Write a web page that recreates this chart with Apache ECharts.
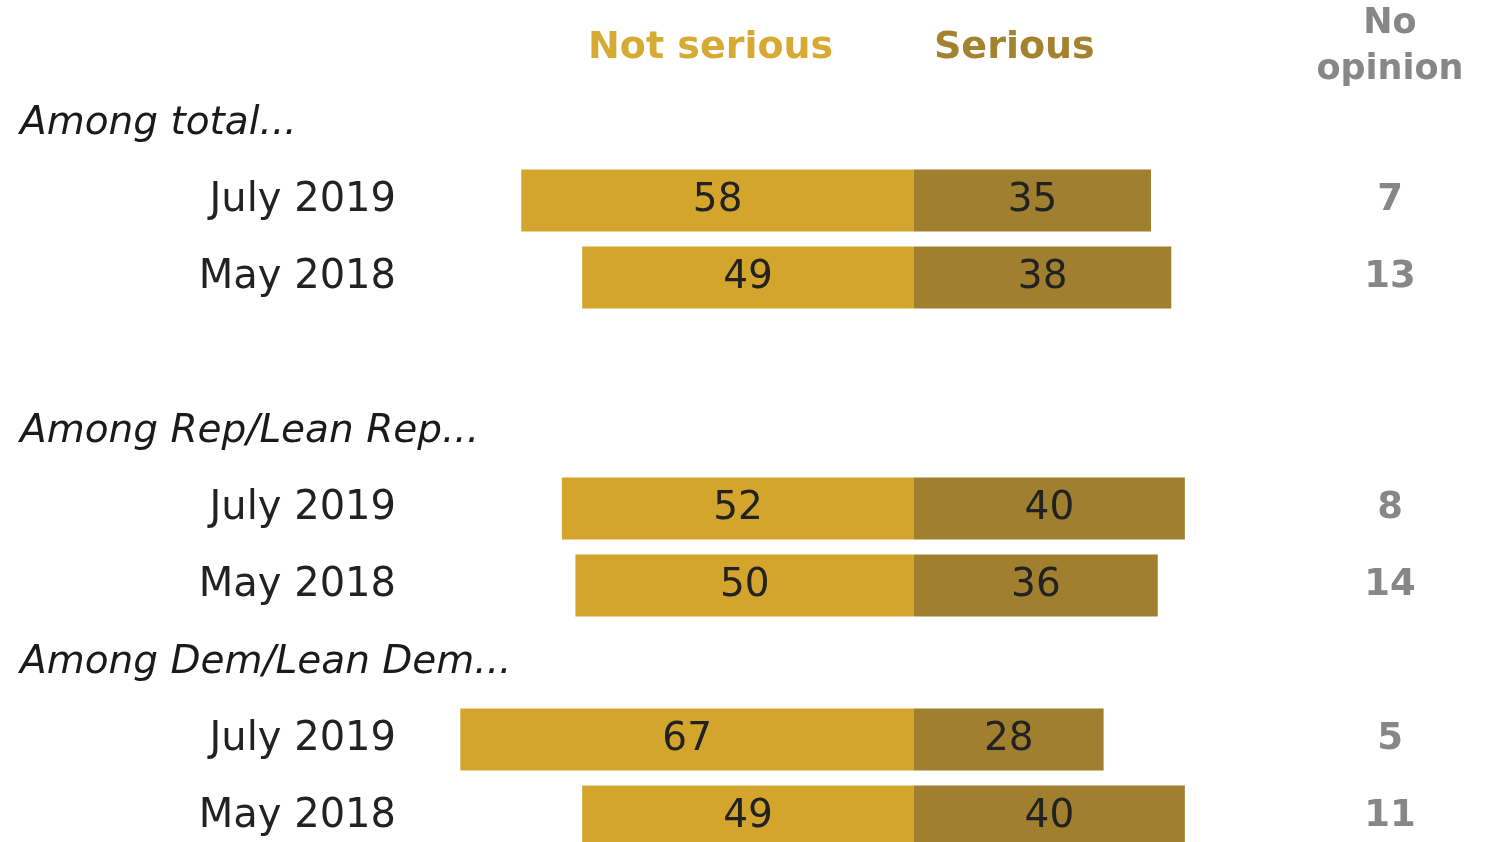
<!DOCTYPE html>
<html>
<head>
<meta charset="utf-8">
<script src="https://cdn.jsdelivr.net/npm/echarts@6/dist/echarts.min.js"></script>
<style>
  html, body { margin: 0; padding: 0; background: #ffffff; overflow: hidden; }
  #chart { width: 1491px; height: 860px; }
</style>
</head>
<body>
<div id="chart"></div>
<script>
// ---- data ----
const groups = ['Among total...', 'Among Rep/Lean Rep...', 'Among Dem/Lean Dem...'];
const periods = ['July 2019', 'May 2018', 'July 2019', 'May 2018', 'July 2019', 'May 2018'];
const notSerious = [58, 49, 52, 50, 67, 49];
const serious = [35, 38, 40, 36, 28, 40];
const noOpinion = [7, 13, 8, 14, 5, 11];
const headers = ['Not serious', 'Serious', 'No\nopinion'];

// ---- row layout (category slots, top to bottom) ----
// 'H' = column header row, 'G' = group heading, 'R' = data row, 'B' = blank spacer
const layout = ['H', 'G', 'R', 'R', 'B', 'G', 'R', 'R', 'G', 'R', 'R'];

const slotIds = [];
const dateLabels = [];
const groupLabels = [];
const noOpLabels = [];
const nsData = [];
const sData = [];
let gi = 0, ri = 0;
layout.forEach((t, i) => {
  slotIds.push('slot' + i);
  if (t === 'R') {
    dateLabels.push(periods[ri]);
    groupLabels.push('');
    noOpLabels.push(String(noOpinion[ri]));
    nsData.push(-notSerious[ri]);
    sData.push(serious[ri]);
    ri++;
  } else if (t === 'G') {
    dateLabels.push('');
    groupLabels.push(groups[gi++]);
    noOpLabels.push('');
    nsData.push('-');
    sData.push('-');
  } else if (t === 'H') {
    dateLabels.push('');
    groupLabels.push('');
    noOpLabels.push('{hdr|' + headers[2] + '}');
    nsData.push('-');
    sData.push('-');
  } else {
    dateLabels.push('');
    groupLabels.push('');
    noOpLabels.push('');
    nsData.push('-');
    sData.push('-');
  }
});

const FONT = 'DejaVu Sans';
const chart = echarts.init(document.getElementById('chart'), null, { renderer: 'canvas' });

const hiddenAxis = {
  axisLine: { show: false },
  axisTick: { show: false },
  splitLine: { show: false }
};

chart.setOption({
  backgroundColor: '#ffffff',
  animation: false,
  grid: { left: 440, right: 103, top: 8, height: 847, containLabel: false },
  xAxis: {
    type: 'value',
    min: -70,
    max: 70,
    show: false
  },
  yAxis: [
    Object.assign({
      type: 'category',
      data: slotIds,
      inverse: true,
      position: 'left',
      axisLabel: {
        margin: 44,
        fontFamily: FONT,
        fontSize: 40,
        color: '#222222',
        formatter: (v, i) => dateLabels[i]
      }
    }, hiddenAxis),
    Object.assign({
      type: 'category',
      data: slotIds,
      inverse: true,
      position: 'left',
      axisLabel: {
        margin: 420,
        align: 'left',
        fontFamily: FONT,
        fontStyle: 'italic',
        fontSize: 39,
        color: '#1a1a1a',
        formatter: (v, i) => groupLabels[i]
      }
    }, hiddenAxis),
    Object.assign({
      type: 'category',
      data: slotIds,
      inverse: true,
      position: 'right',
      axisLabel: {
        margin: 2,
        align: 'center',
        fontFamily: FONT,
        fontWeight: 'bold',
        fontSize: 37,
        color: '#878787',
        formatter: (v, i) => noOpLabels[i],
        rich: {
          hdr: {
            fontFamily: FONT,
            fontWeight: 'bold',
            fontSize: 35,
            lineHeight: 46,
            color: '#878787',
            align: 'center'
          }
        }
      }
    }, hiddenAxis)
  ],
  graphic: [
    {
      type: 'text', left: 588, top: 29,
      style: { text: headers[0], fontFamily: FONT, fontWeight: 'bold', fontSize: 38, fill: '#D6AA33' }
    },
    {
      type: 'text', left: 934, top: 29,
      style: { text: headers[1], fontFamily: FONT, fontWeight: 'bold', fontSize: 38, fill: '#A3832F' }
    }
  ],
  series: [
    {
      name: 'Not serious',
      type: 'bar',
      stack: 'total',
      yAxisIndex: 0,
      data: nsData,
      barWidth: 62,
      itemStyle: { color: '#D4A52C' },
      label: {
        show: true,
        position: 'inside',
        fontFamily: FONT,
        fontSize: 39,
        color: '#222222',
        formatter: p => Math.abs(p.value)
      }
    },
    {
      name: 'Serious',
      type: 'bar',
      stack: 'total',
      yAxisIndex: 0,
      data: sData,
      barWidth: 62,
      itemStyle: { color: '#A07F2F' },
      label: {
        show: true,
        position: 'inside',
        fontFamily: FONT,
        fontSize: 39,
        color: '#222222',
        formatter: p => p.value
      }
    }
  ]
});
</script>
</body>
</html>
